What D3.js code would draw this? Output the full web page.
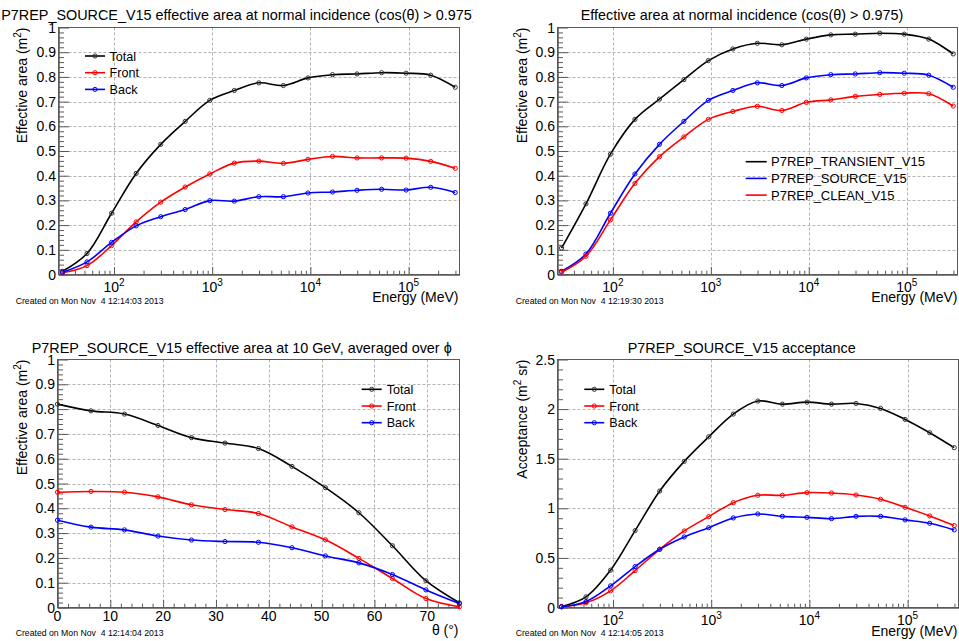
<!DOCTYPE html>
<html><head><meta charset="utf-8">
<script src="https://cdn.jsdelivr.net/npm/d3@7"></script>
<style>
body{margin:0;background:#fff;}
svg{display:block;font-family:"Liberation Sans",Arial,Helvetica,sans-serif;}
</style></head><body>
<svg id="c" width="959" height="641"></svg>
<script>
// ---------------- data ----------------
const energies = [29.9, 53.1, 94.4, 168, 299, 531, 944, 1679, 2985, 5309, 9441, 16788, 29854, 53088, 94406, 167880, 298538];
const thetas = [0, 6.34, 12.68, 19.02, 25.36, 31.7, 38.04, 44.38, 50.72, 57.06, 63.4, 69.74, 76.08];

const p1Total = [0.013, 0.085, 0.248, 0.409, 0.527, 0.620, 0.705, 0.745, 0.776, 0.765, 0.796, 0.809, 0.812, 0.817, 0.815, 0.807, 0.758];
const p1Front = [0.007, 0.036, 0.117, 0.213, 0.293, 0.354, 0.407, 0.451, 0.459, 0.450, 0.466, 0.478, 0.472, 0.472, 0.471, 0.458, 0.430];
const p1Back  = [0.009, 0.051, 0.130, 0.197, 0.234, 0.263, 0.299, 0.297, 0.315, 0.315, 0.330, 0.334, 0.341, 0.345, 0.342, 0.353, 0.332];

const p2Transient = [0.107, 0.286, 0.487, 0.628, 0.710, 0.789, 0.866, 0.913, 0.936, 0.930, 0.953, 0.970, 0.973, 0.977, 0.973, 0.953, 0.893];
const p2Source    = [0.013, 0.083, 0.248, 0.407, 0.527, 0.620, 0.705, 0.745, 0.776, 0.765, 0.796, 0.809, 0.812, 0.817, 0.815, 0.807, 0.758];
const p2Clean     = [0.009, 0.074, 0.221, 0.369, 0.477, 0.557, 0.628, 0.660, 0.681, 0.664, 0.697, 0.707, 0.721, 0.729, 0.734, 0.732, 0.682];

const p3Total = [0.820, 0.793, 0.780, 0.734, 0.685, 0.663, 0.641, 0.569, 0.483, 0.382, 0.249, 0.108, 0.019];
const p3Front = [0.465, 0.468, 0.465, 0.446, 0.414, 0.395, 0.379, 0.325, 0.273, 0.198, 0.117, 0.036, 0.003];
const p3Back  = [0.352, 0.324, 0.313, 0.288, 0.272, 0.266, 0.263, 0.241, 0.208, 0.180, 0.133, 0.071, 0.016];

const p4Total = [0.010, 0.107, 0.376, 0.775, 1.174, 1.473, 1.721, 1.950, 2.081, 2.050, 2.070, 2.050, 2.057, 2.007, 1.896, 1.762, 1.611];
const p4Front = [0.007, 0.047, 0.168, 0.372, 0.587, 0.772, 0.916, 1.057, 1.131, 1.131, 1.158, 1.154, 1.134, 1.091, 1.010, 0.923, 0.826];
const p4Back  = [0.007, 0.060, 0.218, 0.413, 0.587, 0.711, 0.805, 0.903, 0.943, 0.919, 0.909, 0.896, 0.919, 0.919, 0.883, 0.849, 0.782];

const effTicks = [0, 0.1, 0.2, 0.3, 0.4, 0.5, 0.6, 0.7, 0.8, 0.9, 1];
const effLabels = ["0", "0.1", "0.2", "0.3", "0.4", "0.5", "0.6", "0.7", "0.8", "0.9", "1"];
const accTicks = [0, 0.5, 1, 1.5, 2, 2.5];
const accLabels = ["0", "0.5", "1", "1.5", "2", "2.5"];
const thetaTicks = [0, 10, 20, 30, 40, 50, 60, 70];
const thetaLabels = ["0", "10", "20", "30", "40", "50", "60", "70"];
const decadeTicks = [100, 1000, 10000, 100000];
const decadeExps = ["2", "3", "4", "5"];

const energyDomain = [27.2, 330000];
const thetaDomain = [0, 76.1];

// ---------------- drawing ----------------
const svg = d3.select("#c");
const FRAME = "#5a5a5a";
const FONT = 14;
const TFONT = 14.4;

function panel(cfg) {
  const {L, R, T, B} = cfg.frame;
  const g = svg.append("g");
  const x = cfg.xlog ? d3.scaleLog().domain(cfg.xdom).range([L, R])
                     : d3.scaleLinear().domain(cfg.xdom).range([L, R]);
  const y = d3.scaleLinear().domain(cfg.ydom).range([B, T]);

  // grid
  g.selectAll(null).data(cfg.xMajor.filter(v => x(v) > L + 1 && x(v) < R - 1)).join("line")
    .attr("x1", d => Math.round(x(d)) + 0.5).attr("x2", d => Math.round(x(d)) + 0.5)
    .attr("y1", T).attr("y2", B)
    .attr("stroke", "#b4b4b4").attr("stroke-width", 1).attr("stroke-dasharray", "3,2");
  g.selectAll(null).data(cfg.yMajor.filter(v => y(v) < B - 1 && y(v) > T + 1)).join("line")
    .attr("y1", d => Math.round(y(d)) + 0.5).attr("y2", d => Math.round(y(d)) + 0.5)
    .attr("x1", L).attr("x2", R)
    .attr("stroke", "#b4b4b4").attr("stroke-width", 1).attr("stroke-dasharray", "3,2");

  // frame
  g.append("rect").attr("x", L).attr("y", T).attr("width", R - L).attr("height", B - T)
    .attr("fill", "none").attr("stroke", FRAME).attr("stroke-width", 1);

  // x axis ticks
  const xMinor = cfg.xlog ? x.ticks().filter(v => decadeTicks.indexOf(v) < 0)
                          : x.ticks(38).filter(v => cfg.xMajor.indexOf(v) < 0);
  const ax1 = g.append("g").attr("transform", `translate(0,${B})`)
    .call(d3.axisBottom(x).tickValues(cfg.xMajor).tickSize(-7.5).tickSizeOuter(0).tickFormat(""));
  const ax2 = g.append("g").attr("transform", `translate(0,${B})`)
    .call(d3.axisBottom(x).tickValues(xMinor).tickSize(-3.8).tickSizeOuter(0).tickFormat(""));
  [ax1, ax2].forEach(a => { a.select(".domain").attr("stroke", FRAME); a.selectAll(".tick line").attr("stroke", FRAME); });

  // x labels
  if (cfg.xlog) {
    const lab = g.selectAll(null).data(cfg.xMajor).join("text")
      .attr("x", d => x(d)).attr("y", B + 17).attr("text-anchor", "middle")
      .attr("font-size", FONT).attr("fill", "#000");
    lab.append("tspan").text("10");
    lab.append("tspan").attr("font-size", 10).attr("dy", -5.5).text((d, i) => cfg.xExps[i]);
  } else {
    g.selectAll(null).data(cfg.xMajor).join("text")
      .attr("x", d => x(d)).attr("y", B + 13).attr("text-anchor", "middle")
      .attr("font-size", FONT).attr("fill", "#000").text((d, i) => cfg.xLabels[i]);
  }

  // y axis ticks
  const yMinor = y.ticks(cfg.yMinorCount).filter(v => cfg.yMajor.every(m => Math.abs(m - v) > 1e-9));
  const ay1 = g.append("g").attr("transform", `translate(${L},0)`)
    .call(d3.axisLeft(y).tickValues(cfg.yMajor).tickSize(-10.5).tickSizeOuter(0).tickFormat(""));
  const ay2 = g.append("g").attr("transform", `translate(${L},0)`)
    .call(d3.axisLeft(y).tickValues(yMinor).tickSize(-5.5).tickSizeOuter(0).tickFormat(""));
  [ay1, ay2].forEach(a => { a.select(".domain").attr("stroke", FRAME); a.selectAll(".tick line").attr("stroke", FRAME); });
  g.selectAll(null).data(cfg.yMajor).join("text")
    .attr("x", L - 2.5).attr("y", d => y(d)).attr("dy", "0.36em").attr("text-anchor", "end")
    .attr("font-size", FONT).attr("fill", "#000").text((d, i) => cfg.yLabels[i]);

  // series
  const line = d3.line().x((d, i) => x(cfg.xs[i])).y(d => y(d)).curve(d3.curveCatmullRom.alpha(0.5));
  cfg.series.forEach(s => {
    g.append("path").attr("d", line(s.vals)).attr("fill", "none")
      .attr("stroke", s.color).attr("stroke-width", 1.6);
    g.selectAll(null).data(s.vals).join("circle")
      .attr("cx", (d, i) => x(cfg.xs[i])).attr("cy", d => y(d)).attr("r", 2.1)
      .attr("fill", "none").attr("stroke", s.markColor || s.color).attr("stroke-width", 1);
  });

  // legend
  const lg = cfg.legend;
  lg.items.forEach((s, i) => {
    const yy = lg.y0 + i * lg.dy;
    g.append("line").attr("x1", lg.x0).attr("x2", lg.x1).attr("y1", yy).attr("y2", yy)
      .attr("stroke", s.color).attr("stroke-width", 1.6);
    if (lg.markers) g.append("circle").attr("cx", (lg.x0 + lg.x1) / 2).attr("cy", yy).attr("r", 2.1)
      .attr("fill", "none").attr("stroke", s.markColor || s.color).attr("stroke-width", 1);
    g.append("text").attr("x", lg.tx).attr("y", yy).attr("dy", "0.36em")
      .attr("font-size", lg.fs).attr("fill", "#000").text(s.name);
  });

  // y title
  const yt = g.append("text").attr("transform", `translate(${cfg.ytx},${T}) rotate(-90)`)
    .attr("text-anchor", "end").attr("font-size", FONT).attr("fill", "#000");
  yt.append("tspan").text(cfg.ytitle[0]);
  yt.append("tspan").attr("font-size", 10).attr("dy", -5.5).text("2");
  yt.append("tspan").attr("dy", 5.5).text(cfg.ytitle[1]);

  // x title
  g.append("text").attr("x", cfg.xtx).attr("y", cfg.xty).attr("text-anchor", "end")
    .attr("font-size", FONT).attr("fill", "#000").text(cfg.xtitle);

  // date stamp
  g.append("text").attr("x", cfg.dateX).attr("y", cfg.dateY).attr("font-size", 8.7)
    .attr("fill", "#000").attr("xml:space", "preserve").style("white-space", "pre").text(cfg.date);

  // title
  const tg = g.append("g");
  if (cfg.titleClip) {
    const id = "clip" + Math.round(cfg.frame.L);
    svg.append("clipPath").attr("id", id).append("rect")
      .attr("x", cfg.titleClip[0]).attr("y", 0).attr("width", cfg.titleClip[1] - cfg.titleClip[0]).attr("height", 40);
    tg.attr("clip-path", `url(#${id})`);
  }
  const tt = tg.append("text").attr("y", cfg.titleY).attr("font-size", TFONT).attr("fill", "#000").text(cfg.title);
  if (cfg.titleEndVisible !== undefined) {
    const w = tt.node().getSubStringLength(0, cfg.title.length - 1);
    tt.attr("x", cfg.titleEndVisible - w).attr("text-anchor", "start");
  } else {
    tt.attr("x", cfg.titleX).attr("text-anchor", "middle");
  }
}

const legTFB = (a, b, c) => [
  {name: "Total", color: "#000", markColor: "#333", vals: a},
  {name: "Front", color: "#ff0000", vals: b},
  {name: "Back", color: "#0000ff", vals: c}
];

// Panel 1
{
  const s = legTFB(p1Total, p1Front, p1Back);
  panel({
    frame: {L: 58.5, R: 459.5, T: 27.5, B: 274.5},
    xlog: true, xdom: energyDomain, xs: energies, xMajor: decadeTicks, xExps: decadeExps,
    ydom: [0, 1], yMajor: effTicks, yLabels: effLabels, yMinorCount: 50,
    series: s,
    legend: {items: s, x0: 85, x1: 105, tx: 109.5, y0: 56, dy: 16.7, fs: 12.6, markers: true},
    ytitle: ["Effective area (m", ")"], ytx: 26.5,
    xtitle: "Energy (MeV)", xtx: 458.5, xty: 301.7,
    date: "Created on Mon Nov  4 12:14:03 2013", dateX: 15.7, dateY: 303.7,
    title: "P7REP_SOURCE_V15 effective area at normal incidence (cos(θ) > 0.975)",
    titleY: 20, titleEndVisible: 471.7, titleClip: [0, 472.3]
  });
}
// Panel 2
{
  const s = [
    {name: "P7REP_TRANSIENT_V15", color: "#000", markColor: "#333", vals: p2Transient},
    {name: "P7REP_SOURCE_V15", color: "#0000ff", vals: p2Source},
    {name: "P7REP_CLEAN_V15", color: "#ff0000", vals: p2Clean}
  ];
  panel({
    frame: {L: 557.5, R: 957.5, T: 27.5, B: 274.5},
    xlog: true, xdom: energyDomain, xs: energies, xMajor: decadeTicks, xExps: decadeExps,
    ydom: [0, 1], yMajor: effTicks, yLabels: effLabels, yMinorCount: 50,
    series: s,
    legend: {items: s, x0: 745.7, x1: 766.7, tx: 771, y0: 161.7, dy: 16.7, fs: 13, markers: false},
    ytitle: ["Effective area (m", ")"], ytx: 526.5,
    xtitle: "Energy (MeV)", xtx: 957.5, xty: 301.7,
    date: "Created on Mon Nov  4 12:19:30 2013", dateX: 515.7, dateY: 303.7,
    title: "Effective area at normal incidence (cos(θ) > 0.975)",
    titleY: 20, titleX: 742
  });
}
// Panel 3
{
  const s = legTFB(p3Total, p3Front, p3Back);
  panel({
    frame: {L: 57.5, R: 459.5, T: 359.5, B: 607.5},
    xlog: false, xdom: thetaDomain, xs: thetas, xMajor: thetaTicks, xLabels: thetaLabels,
    ydom: [0, 1], yMajor: effTicks, yLabels: effLabels, yMinorCount: 50,
    series: s,
    legend: {items: s, x0: 361.7, x1: 381.7, tx: 386.7, y0: 389.3, dy: 16.7, fs: 12.6, markers: true},
    ytitle: ["Effective area (m", ")"], ytx: 26.5,
    xtitle: "θ (°)", xtx: 458.5, xty: 635,
    date: "Created on Mon Nov  4 12:14:04 2013", dateX: 15.7, dateY: 636.3,
    title: "P7REP_SOURCE_V15 effective area at 10 GeV, averaged over ϕ",
    titleY: 352.7, titleX: 241.7
  });
}
// Panel 4
{
  const s = legTFB(p4Total, p4Front, p4Back);
  panel({
    frame: {L: 557.5, R: 958.5, T: 359.5, B: 607.5},
    xlog: true, xdom: energyDomain, xs: energies, xMajor: decadeTicks, xExps: decadeExps,
    ydom: [0, 2.5], yMajor: accTicks, yLabels: accLabels, yMinorCount: 25,
    series: s,
    legend: {items: s, x0: 584.3, x1: 604.3, tx: 609.3, y0: 389.3, dy: 16.7, fs: 12.6, markers: true},
    ytitle: ["Acceptance (m", " sr)"], ytx: 526.5,
    xtitle: "Energy (MeV)", xtx: 957.5, xty: 635.5,
    date: "Created on Mon Nov  4 12:14:05 2013", dateX: 515.7, dateY: 636.3,
    title: "P7REP_SOURCE_V15 acceptance",
    titleY: 352.7, titleX: 741.7
  });
}
</script>
</body></html>
